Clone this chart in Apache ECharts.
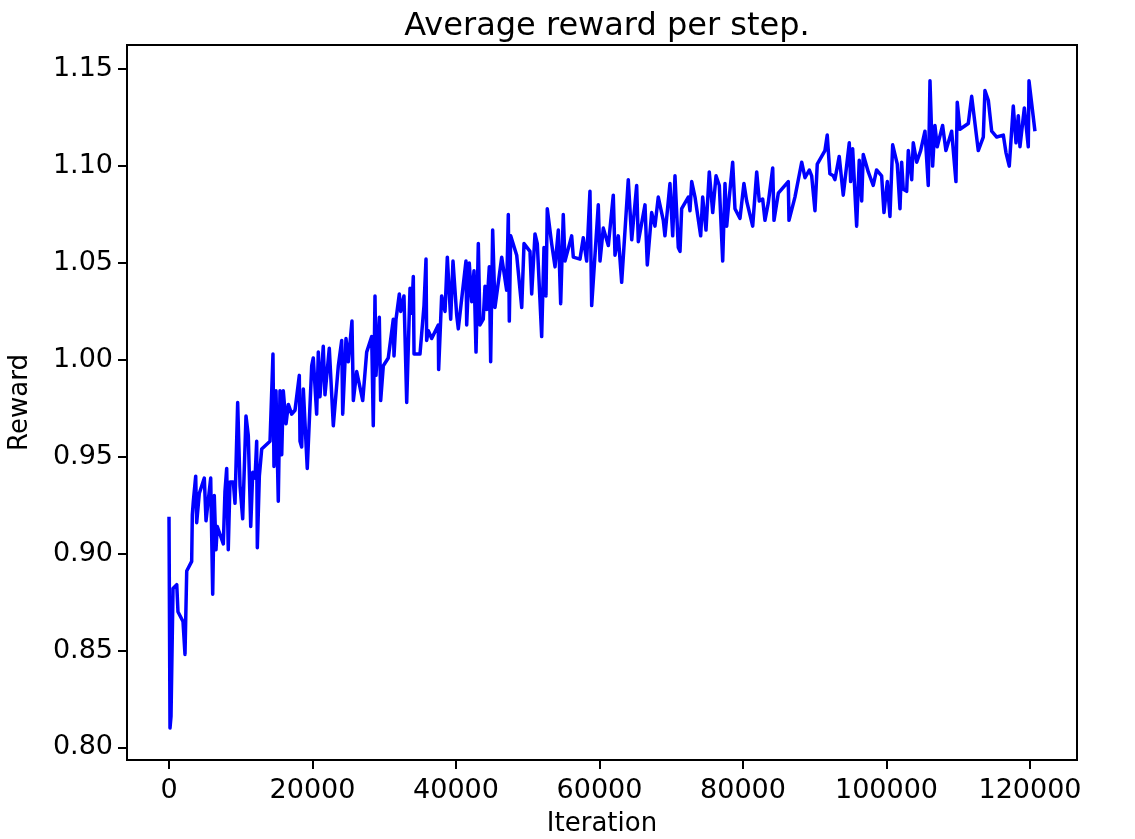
<!DOCTYPE html>
<html>
<head>
<meta charset="utf-8">
<script src="https://cdn.jsdelivr.net/npm/echarts@6/dist/echarts.min.js"></script>
<style>
html,body{margin:0;padding:0;background:#fff;}
#chart{width:1135px;height:839px;}
</style>
</head>
<body>
<div id="chart"></div>
<script>
const iterations = [0,140,280,560,1080,1250,1950,2230,2470,3160,3250,3390,3720,3860,4220,4920,5160,5810,6090,6310,6550,6730,7570,7800,8040,8260,8500,8960,9200,9570,9900,10270,10730,11050,11390,11670,11990,12220,12310,12590,12920,14080,14490,14630,14910,15230,15470,15710,15930,16310,16630,17100,17560,18160,18260,18490,18720,19270,19890,20110,20580,20810,21040,21500,21740,22340,22900,23600,24070,24210,24670,24990,25500,25690,26160,27000,27550,28250,28470,28710,28850,29310,29500,29870,30560,31260,31360,31640,32100,32290,32750,33130,33590,33820,34050,34150,34980,35540,35820,35910,36140,36610,37530,37580,38000,38470,38790,39260,39580,40100,40320,41390,41490,41850,42190,42510,42790,43110,43340,43800,44040,44280,44640,44830,45110,45430,46370,47060,47290,47430,47620,48460,49160,49480,50310,50550,51010,51330,51940,52260,52540,52720,53330,53800,54260,54590,54950,55190,56120,56350,57280,57740,58210,58670,58910,59830,60070,60530,61230,61920,62160,62620,63090,64010,64490,65180,65410,66340,66660,67270,67730,68190,68890,69120,69820,70200,70520,70980,71220,71450,72380,72610,72850,73310,74100,74380,74840,75300,75780,76240,76700,77170,77490,77730,78090,78560,78880,79580,80130,80510,81350,81910,82270,82740,83060,83520,84140,84320,84920,86310,86410,87240,88180,88640,89240,89570,90030,90350,91420,91740,92110,92580,92810,93410,93970,94810,95000,95280,95840,96200,96540,96760,97460,98150,98620,99320,99650,100110,100480,100860,101500,101880,102110,102340,102810,103040,103510,103730,104210,104760,105360,105820,106060,106430,106750,107070,107820,108280,109080,109680,109860,110240,111400,111870,112790,113490,113720,114190,114660,115360,116280,116650,117110,117670,118050,118370,118600,119210,119760,119860,120690];
const rewards = [0.919,0.810,0.816,0.882,0.884,0.870,0.865,0.848,0.891,0.896,0.920,0.927,0.940,0.916,0.931,0.939,0.917,0.939,0.879,0.930,0.902,0.914,0.905,0.932,0.944,0.902,0.937,0.937,0.926,0.978,0.935,0.918,0.971,0.961,0.914,0.942,0.939,0.958,0.903,0.940,0.954,0.958,1.003,0.945,0.984,0.927,0.984,0.951,0.984,0.967,0.977,0.972,0.974,0.992,0.958,0.955,0.985,0.944,0.997,1.001,0.972,1.004,0.981,1.007,0.982,1.006,0.966,0.997,1.010,0.972,1.011,0.999,1.020,0.979,0.994,0.979,1.004,1.012,0.966,1.033,0.992,1.022,0.979,0.997,1.001,1.021,1.002,1.021,1.034,1.025,1.033,0.978,1.037,1.024,1.043,1.003,1.003,1.028,1.052,1.010,1.015,1.011,1.018,0.995,1.033,1.025,1.053,1.021,1.051,1.023,1.016,1.051,1.018,1.050,1.030,1.046,1.004,1.060,1.018,1.021,1.038,1.026,1.048,0.999,1.067,1.027,1.053,1.036,1.075,1.020,1.064,1.054,1.027,1.060,1.056,1.034,1.065,1.060,1.012,1.058,1.033,1.078,1.060,1.048,1.067,1.029,1.075,1.051,1.064,1.053,1.052,1.063,1.051,1.087,1.028,1.080,1.051,1.068,1.059,1.085,1.054,1.064,1.040,1.093,1.062,1.090,1.061,1.080,1.049,1.076,1.069,1.084,1.072,1.064,1.091,1.064,1.095,1.058,1.056,1.078,1.084,1.077,1.092,1.084,1.064,1.084,1.067,1.097,1.076,1.095,1.090,1.051,1.091,1.069,1.084,1.102,1.078,1.073,1.091,1.082,1.069,1.097,1.082,1.083,1.072,1.081,1.099,1.072,1.086,1.092,1.072,1.084,1.102,1.094,1.098,1.095,1.077,1.101,1.108,1.116,1.096,1.095,1.093,1.105,1.085,1.112,1.092,1.109,1.069,1.103,1.082,1.106,1.097,1.090,1.098,1.095,1.076,1.092,1.074,1.111,1.101,1.078,1.102,1.088,1.087,1.108,1.093,1.112,1.102,1.108,1.118,1.090,1.144,1.100,1.121,1.110,1.121,1.108,1.118,1.092,1.133,1.119,1.122,1.136,1.108,1.115,1.139,1.134,1.118,1.115,1.116,1.107,1.100,1.131,1.112,1.126,1.110,1.130,1.110,1.144,1.118];
const xTicks = [0,20000,40000,60000,80000,100000,120000];
const yTicks = [0.80,0.85,0.90,0.95,1.00,1.05,1.10,1.15];

const seriesData = iterations.map((x,i)=>[x,rewards[i]]);
const FONT = 'DejaVu Sans';
const chart = echarts.init(document.getElementById('chart'), null, {renderer:'canvas'});
chart.setOption({
  animation:false,
  backgroundColor:'#fff',
  title:{
    text:'Average reward per step.',
    left:602, top:6, textAlign:'center',
    textStyle:{fontFamily:FONT,fontSize:32,fontWeight:'normal',color:'#000'}
  },
  grid:{left:127,right:58,top:45,bottom:79,containLabel:false,outerBoundsMode:'none',show:true,borderColor:'#000',borderWidth:2,backgroundColor:'transparent'},
  xAxis:{
    type:'value', min:-5854, max:126550,
    name:'Iteration', nameLocation:'middle', nameGap:51,
    nameTextStyle:{fontFamily:FONT,fontSize:26,color:'#000'},
    axisLine:{show:true,onZero:false,lineStyle:{color:'#000',width:2}},
    axisTick:{show:true,length:9,inside:false,customValues:xTicks,lineStyle:{color:'#000',width:2}},
    axisLabel:{customValues:xTicks,fontFamily:FONT,fontSize:27,color:'#000',margin:17,formatter:v=>String(v)},
    splitLine:{show:false}
  },
  yAxis:{
    type:'value', min:0.7935, max:1.1625,
    name:'Reward', nameLocation:'middle', nameGap:94,
    nameTextStyle:{fontFamily:FONT,fontSize:26,color:'#000'},
    axisLine:{show:true,onZero:false,lineStyle:{color:'#000',width:2}},
    axisTick:{show:true,length:9,inside:false,customValues:yTicks,lineStyle:{color:'#000',width:2}},
    axisLabel:{customValues:yTicks,fontFamily:FONT,fontSize:27,color:'#000',margin:14,formatter:v=>v.toFixed(2)},
    splitLine:{show:false}
  },
  series:[{
    type:'line', data:seriesData, showSymbol:false, symbol:'none',
    lineStyle:{color:'#0000ff',width:3.5,join:'round'},
    clip:true
  }]
});
</script>
</body>
</html>
